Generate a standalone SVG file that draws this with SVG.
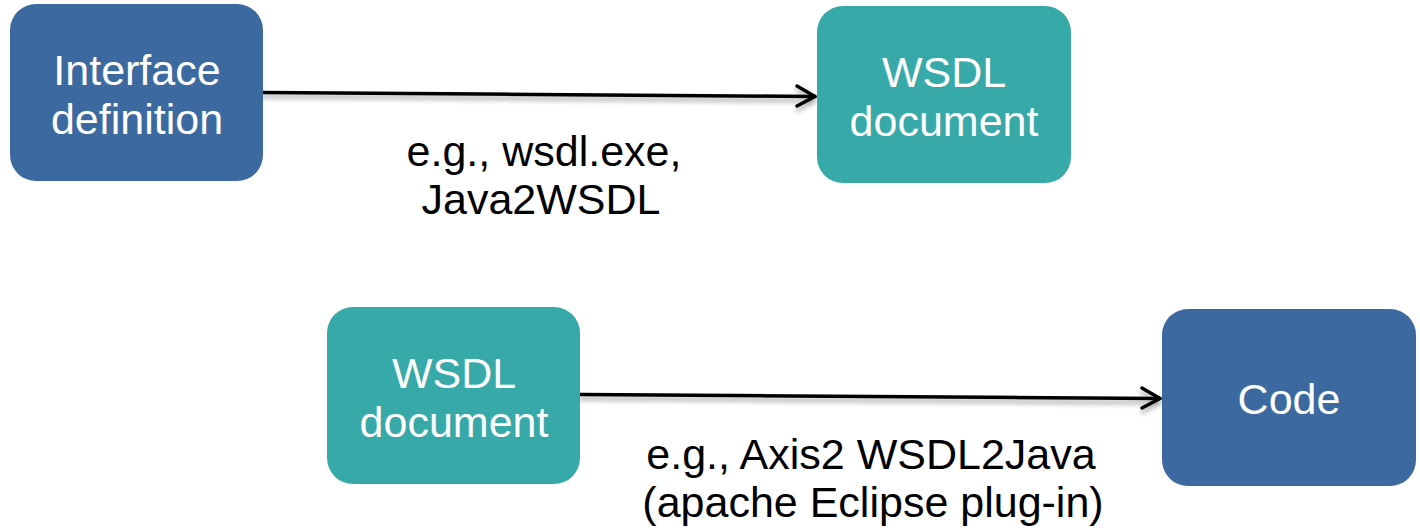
<svg xmlns="http://www.w3.org/2000/svg" width="1420" height="528" viewBox="0 0 1420 528">
  <defs>
    <style>
      .box-blue { fill: #3D69A1; }
      .box-teal { fill: #38A9A9; }
      .node-text { font-family: "Helvetica Neue", "Liberation Sans", Arial, sans-serif; font-size: 43px; fill: #FFFFFF; text-anchor: middle; }
      .label { font-family: "Helvetica Neue", "Liberation Sans", Arial, sans-serif; font-size: 43px; fill: #000000; text-anchor: middle; }
      .conn { stroke: #000000; stroke-width: 3.5; fill: none; stroke-linecap: round; stroke-linejoin: round; }
    </style>
    <filter id="soft-shadow" x="-5%" y="-200%" width="110%" height="500%">
      <feGaussianBlur in="SourceAlpha" stdDeviation="2.5"/>
      <feOffset dx="0" dy="4" result="blur"/>
      <feComponentTransfer><feFuncA type="linear" slope="0.35"/></feComponentTransfer>
      <feMerge><feMergeNode/><feMergeNode in="SourceGraphic"/></feMerge>
    </filter>
  </defs>

  <rect width="1420" height="528" fill="#FFFFFF"/>

  <!-- connectors -->
  <g id="connectors" filter="url(#soft-shadow)">
    <g id="edge-interface-wsdl">
      <path class="conn" d="M263,92.5 L815,96.5"/>
      <path class="conn" d="M797,86 L815,96.5 L797,106"/>
    </g>
    <g id="edge-wsdl-code">
      <path class="conn" d="M580,394.5 L1160,398.5"/>
      <path class="conn" d="M1142,388 L1160,398.5 L1142,408"/>
    </g>
  </g>

  <!-- nodes -->
  <g id="node-interface">
    <rect class="box-blue" x="10" y="4" width="253" height="177" rx="26"/>
    <text class="node-text" x="137" y="85">Interface</text>
    <text class="node-text" x="137" y="134">definition</text>
  </g>

  <g id="node-wsdl-top">
    <rect class="box-teal" x="817" y="6" width="254" height="177" rx="26"/>
    <text class="node-text" x="944" y="87">WSDL</text>
    <text class="node-text" x="944" y="136">document</text>
  </g>

  <g id="node-wsdl-bottom">
    <rect class="box-teal" x="327" y="307" width="253" height="177" rx="26"/>
    <text class="node-text" x="454" y="388">WSDL</text>
    <text class="node-text" x="454" y="437">document</text>
  </g>

  <g id="node-code">
    <rect class="box-blue" x="1162" y="309" width="254" height="177" rx="26"/>
    <text class="node-text" x="1289" y="414">Code</text>
  </g>

  <!-- edge labels -->
  <g id="label-top">
    <text class="label" x="544" y="166">e.g., wsdl.exe,</text>
    <text class="label" x="541" y="214">Java2WSDL</text>
  </g>
  <g id="label-bottom">
    <text class="label" x="871" y="469">e.g., Axis2 WSDL2Java</text>
    <text class="label" x="873" y="517">(apache Eclipse plug-in)</text>
  </g>
</svg>
